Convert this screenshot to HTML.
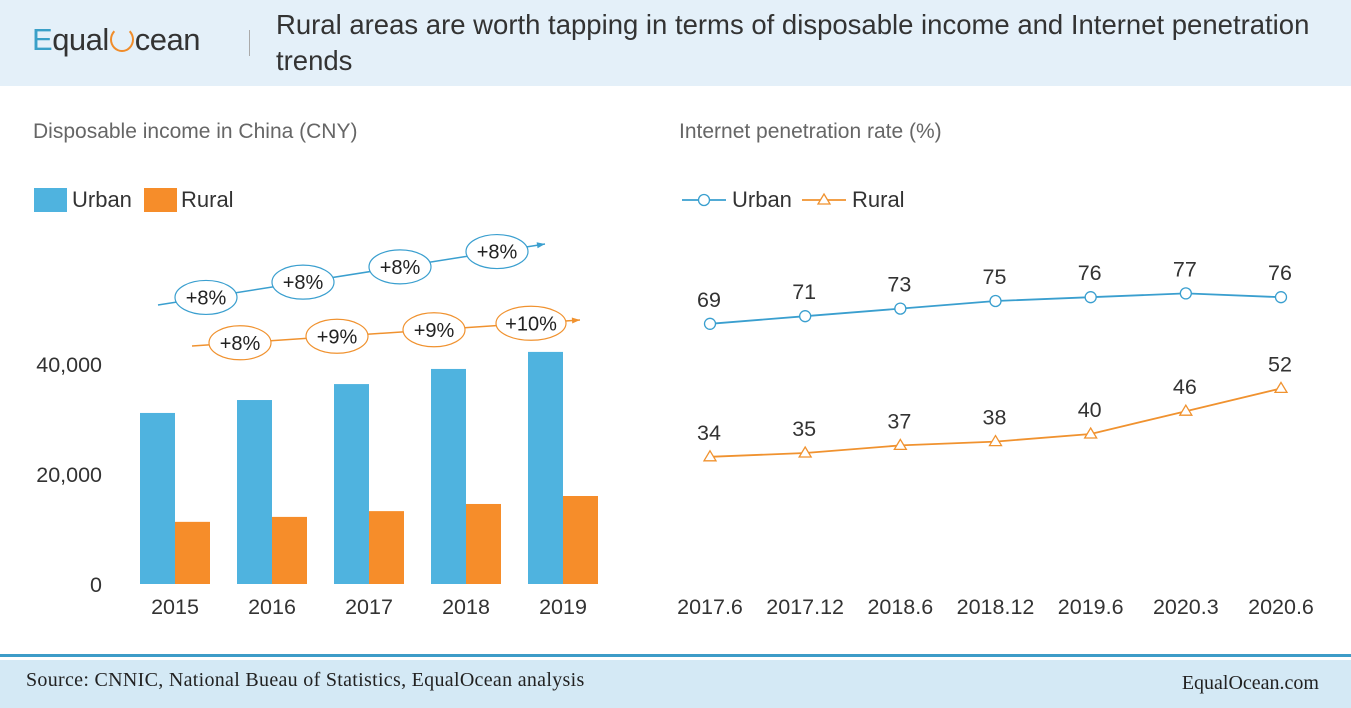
<!DOCTYPE html>
<html><head><meta charset="utf-8"><style>
body{margin:0;width:1351px;height:708px;background:#fff;font-family:"Liberation Sans",sans-serif;overflow:hidden;position:relative}
.hdr{position:absolute;left:0;top:0;width:1351px;height:86px;background:#e4f0f9}
.logo{position:absolute;left:32px;top:22px;font-size:31px;color:#333;letter-spacing:-0.5px}
.oc{display:inline-block;width:20px;height:21px;border:2px solid #f08c2a;border-top-color:transparent;border-radius:50%;vertical-align:-2px;margin:0 1px}
.sep{position:absolute;left:249px;top:30px;width:1px;height:26px;background:#aaa}
.title{position:absolute;left:276px;top:7px;font-size:27.5px;line-height:36px;color:#333;white-space:nowrap}
.foot-line{position:absolute;left:0;top:654px;width:1351px;height:3px;background:#3d9cc8}
.foot{position:absolute;left:0;top:660px;width:1351px;height:48px;background:#d4e9f5;font-family:"Liberation Serif",serif;font-size:20px;color:#222}
</style></head><body>
<div class="hdr">
<div class="logo"><span style="color:#3aa0c8">E</span>qual<span class="oc"></span>cean</div>
<div class="sep"></div>
<div class="title">Rural areas are worth tapping in terms of disposable income and Internet penetration<br>trends</div>
</div>
<svg id="c" width="1351" height="708" style="position:absolute;left:0;top:0" font-family="Liberation Sans, sans-serif"></svg>
<div class="foot-line"></div>
<div class="foot">
<span style="position:absolute;left:26px;top:9px;letter-spacing:0.3px">Source: CNNIC, National Bueau of Statistics, EqualOcean analysis</span>
<span style="position:absolute;right:32px;top:12px">EqualOcean.com</span>
</div>
<script>
const years=["2015","2016","2017","2018","2019"];
const urbanIncome=[31100,33450,36350,39100,42200];
const ruralIncome=[11300,12200,13250,14550,16000];
const urbanGrowth=["+8%","+8%","+8%","+8%"];
const ruralGrowth=["+8%","+9%","+9%","+10%"];
const yTicks=[0,20000,40000];
const periods=["2017.6","2017.12","2018.6","2018.12","2019.6","2020.3","2020.6"];
const urbanRate=[69,71,73,75,76,77,76];
const ruralRate=[34,35,37,38,40,46,52];

const svg=document.getElementById('c');const NS='http://www.w3.org/2000/svg';
function mk(t,a,txt){const e=document.createElementNS(NS,t);for(const k in a)e.setAttribute(k,a[k]);if(txt!==undefined)e.textContent=txt;svg.appendChild(e);return e;}
const BLUE='#4fb3df',ORANGE='#f68d2a',LB='#3a9fcf',LO='#f0922f';
const FS=21.5;
let t=mk('text',{x:33,y:138,'font-size':21,fill:'#666'},'Disposable income in China (CNY)');

let r=mk('rect',{x:34,y:188,width:33,height:24,fill:BLUE});
t=mk('text',{x:72,y:207,'font-size':22,fill:'#333'},'Urban');
r=mk('rect',{x:144,y:188,width:33,height:24,fill:ORANGE});
t=mk('text',{x:181,y:207,'font-size':22,fill:'#333'},'Rural');
const y0=584,ys=220/40000;const yB=v=>y0-v*ys;const xB=i=>175+i*97;
yTicks.forEach(v=>{const e=mk('text',{x:102,y:yB(v)+8,'font-size':FS,fill:'#333','text-anchor':'end'},v.toLocaleString('en-US'));});
years.forEach((y,i)=>{
 let b=mk('rect',{x:xB(i)-35,y:yB(urbanIncome[i]),width:35,height:urbanIncome[i]*ys,fill:BLUE});
 
 b=mk('rect',{x:xB(i),y:yB(ruralIncome[i]),width:35,height:ruralIncome[i]*ys,fill:ORANGE});
 
 const e=mk('text',{x:xB(i),y:614,'font-size':FS,fill:'#333','text-anchor':'middle'},y);
 
});
function growth(arr,x1,y1,x2,y2,col,name){
 const l=mk('line',{x1:x1,y1:y1,x2:x2,y2:y2,stroke:col,'stroke-width':1.5});
 const a=Math.atan2(y2-y1,x2-x1);
 const p=mk('polygon',{points:`${x2},${y2} ${x2-8*Math.cos(a)+3*Math.sin(a)},${y2-8*Math.sin(a)-3*Math.cos(a)} ${x2-8*Math.cos(a)-3*Math.sin(a)},${y2-8*Math.sin(a)+3*Math.cos(a)}`,fill:col});
 
 arr.forEach((g,i)=>{const cx=x1+48+i*97,cy=y1+(y2-y1)*(cx-x1)/(x2-x1);
  const w=g.length>3?35:31;
  const el=mk('ellipse',{cx:cx,cy:cy,rx:w,ry:17,fill:'#fff',stroke:col,'stroke-width':1.2});
  const tx=mk('text',{x:cx,y:cy+7,'font-size':20,fill:'#222','text-anchor':'middle'},g);});
}
growth(urbanGrowth,158,305,545,244,LB,'urban-growth');
growth(ruralGrowth,192,346,580,320,LO,'rural-growth');
t=mk('text',{x:679,y:138,'font-size':21,fill:'#666'},'Internet penetration rate (%)');
let l=mk('line',{x1:682,y1:200,x2:726,y2:200,stroke:LB,'stroke-width':1.8});
let c=mk('circle',{cx:704,cy:200,r:5.5,fill:'#fff',stroke:LB,'stroke-width':1.3});
t=mk('text',{x:732,y:207,'font-size':22,fill:'#333'},'Urban');
l=mk('line',{x1:802,y1:200,x2:846,y2:200,stroke:LO,'stroke-width':1.8});
let tri=mk('polygon',{points:'824,194 830,204 818,204',fill:'#fff',stroke:LO,'stroke-width':1.3});
t=mk('text',{x:852,y:207,'font-size':22,fill:'#333'},'Rural');
const xs=[710,806,899,994,1090,1186,1281];
const xL=i=>xs[0]+i*(xs[6]-xs[0])/6;const yL=v=>586-3.8*v;
function series(vals,col,kind,name){
 const pl=mk('polyline',{points:vals.map((v,i)=>xL(i)+','+yL(v)).join(' '),fill:'none',stroke:col,'stroke-width':1.8});
 
 vals.forEach((v,i)=>{const x=xL(i),y=yL(v);let m;
  if(kind==='c')m=mk('circle',{cx:x,cy:y,r:5.5,fill:'#fff',stroke:col,'stroke-width':1.3});
  else m=mk('polygon',{points:`${x},${y-6} ${x+6},${y+4} ${x-6},${y+4}`,fill:'#fff',stroke:col,'stroke-width':1.3});
  
  const tx=mk('text',{x:x-1,y:y-17,'font-size':FS,fill:'#333','text-anchor':'middle'},String(v));
  });
}
series(urbanRate,LB,'c','urban-rate');
series(ruralRate,LO,'t','rural-rate');
periods.forEach((p,i)=>{const e=mk('text',{x:xL(i),y:614,'font-size':FS,fill:'#333','text-anchor':'middle'},p);});
</script>
</body></html>
